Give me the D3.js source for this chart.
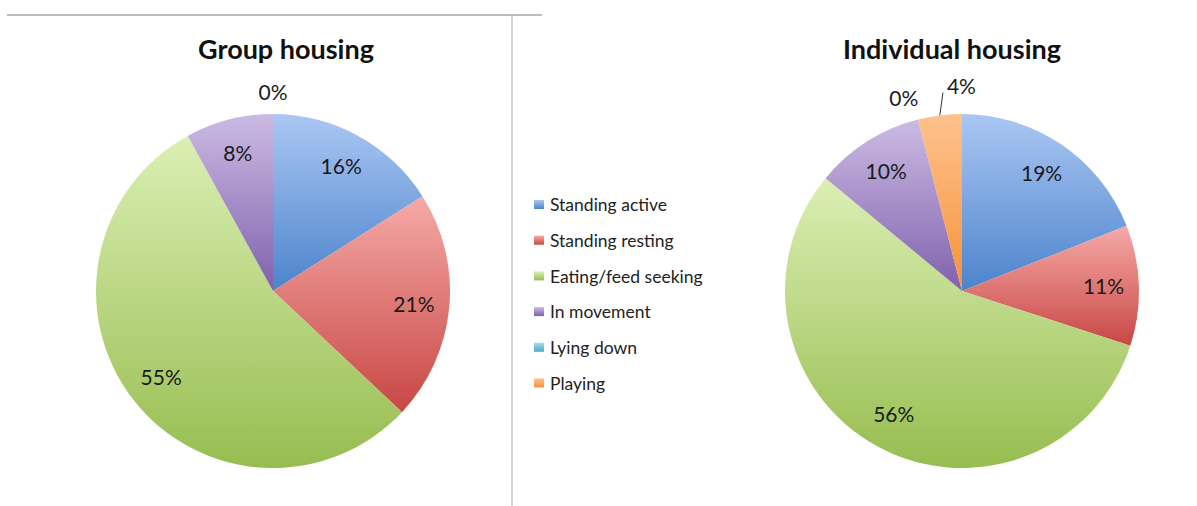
<!DOCTYPE html>
<html>
<head>
<meta charset="utf-8">
<script src="https://cdn.jsdelivr.net/npm/d3@7"></script>
<style>
  html, body { margin: 0; padding: 0; background: #fff; }
  svg { display: block; font-family: Lato, "Open Sans", sans-serif; }
</style>
</head>
<body>
<svg id="chart" width="1197" height="506"></svg>
<script>
// Behaviour categories (clockwise from 12 o'clock)
const categories = ["Standing active", "Standing resting", "Eating/feed seeking", "In movement", "Lying down", "Playing"];
// Share of observations (%) per housing type
const groupValues = [16, 21, 55, 8, 0, 0];
const individualValues = [19, 11, 56, 10, 0, 4];
const titles = ["Group housing", "Individual housing"];

// Gradient stops per category: lighter top, darker bottom
const topColors = ["#abc7f3", "#f5aaa7", "#dbefb4", "#cbbbe3", "#a3dbec", "#fdc28f"];
const bottomColors = ["#4c83cc", "#c84744", "#97bd50", "#7f61ac", "#4bacc6", "#f79236"];

const svg = d3.select("#chart");
const defs = svg.append("defs");

// Frame lines
svg.append("line").attr("x1", 7).attr("x2", 542).attr("y1", 15).attr("y2", 15)
  .attr("stroke", "#a6a6a6").attr("stroke-width", 1.5);
svg.append("line").attr("x1", 512).attr("x2", 512).attr("y1", 15).attr("y2", 506)
  .attr("stroke", "#a6a6a6").attr("stroke-width", 1);

categories.forEach((c, i) => {
  const g = defs.append("linearGradient").attr("id", "grad" + i)
    .attr("x1", 0).attr("y1", 0).attr("x2", 0).attr("y2", 1);
  g.append("stop").attr("offset", "0%").attr("stop-color", topColors[i]);
  g.append("stop").attr("offset", "100%").attr("stop-color", bottomColors[i]);
});

const R = 177;
const pie = d3.pie().sort(null).value(d => d);
const arc = d3.arc().innerRadius(0).outerRadius(R);
const labelArc = d3.arc().innerRadius(R * 0.8).outerRadius(R * 0.8);
const outerArc = d3.arc().innerRadius(R * 1.12).outerRadius(R * 1.12);
const leaderArc = d3.arc().innerRadius(R * 1.13).outerRadius(R * 1.13);
const edgeArc = d3.arc().innerRadius(R).outerRadius(R);

function drawPie(values, cx, cy, title, titleX) {
  const g = svg.append("g").attr("transform", `translate(${cx},${cy})`);
  const arcs = pie(values);

  g.selectAll("path.slice").data(arcs).join("path")
    .attr("class", "slice")
    .attr("d", arc)
    .attr("fill", (d, i) => `url(#grad${i})`);

  const placed = [];
  arcs.forEach((d, i) => {
    const v = values[i];
    const txt = v + "%";
    if (v >= 5) {
      const [x, y] = labelArc.centroid(d);
      g.append("text").attr("x", x).attr("y", y).attr("dy", "0.35em")
        .attr("text-anchor", "middle").attr("font-size", 21).attr("fill", "#1a1a1a").text(txt);
    } else if (v === 0) {
      let [x, y] = outerArc.centroid(d);
      // nudge away from a neighbouring leader line
      if (x < -5) x -= 9;
      const key = Math.round(x) + "," + Math.round(y);
      if (placed.includes(key)) return;
      placed.push(key);
      g.append("text").attr("x", x).attr("y", y).attr("dy", "0.35em")
        .attr("text-anchor", "middle").attr("font-size", 21).attr("fill", "#1a1a1a").text(txt);
    } else {
      const [x0, y0] = edgeArc.centroid(d);
      const [x1, y1] = leaderArc.centroid(d);
      g.append("line").attr("x1", x0).attr("y1", y0).attr("x2", x1 + 6).attr("y2", y1)
        .attr("stroke", "#333").attr("stroke-width", 1);
      g.append("text").attr("x", x1 + 10).attr("y", y1 - 6).attr("dy", "0.35em")
        .attr("text-anchor", "start").attr("font-size", 21).attr("fill", "#1a1a1a").text(txt);
    }
  });

  svg.append("text").attr("x", titleX).attr("y", 50).attr("dy", "0.35em")
    .attr("text-anchor", "middle").attr("font-size", 27).attr("font-weight", "bold")
    .attr("fill", "#111").text(title);
}

drawPie(groupValues, 273, 291, titles[0], 286);
drawPie(individualValues, 962, 291, titles[1], 952);

// Legend
const legend = svg.append("g").attr("transform", "translate(534,205)");
const item = legend.selectAll("g").data(categories).join("g")
  .attr("transform", (d, i) => `translate(0,${i * 35.7})`);
item.append("rect").attr("x", 0).attr("y", -5).attr("width", 10).attr("height", 9)
  .attr("fill", (d, i) => `url(#grad${i})`);
item.append("text").attr("x", 16).attr("y", 0).attr("dy", "0.35em")
  .attr("font-size", 17.5).attr("fill", "#222").text(d => d);
</script>
</body>
</html>
